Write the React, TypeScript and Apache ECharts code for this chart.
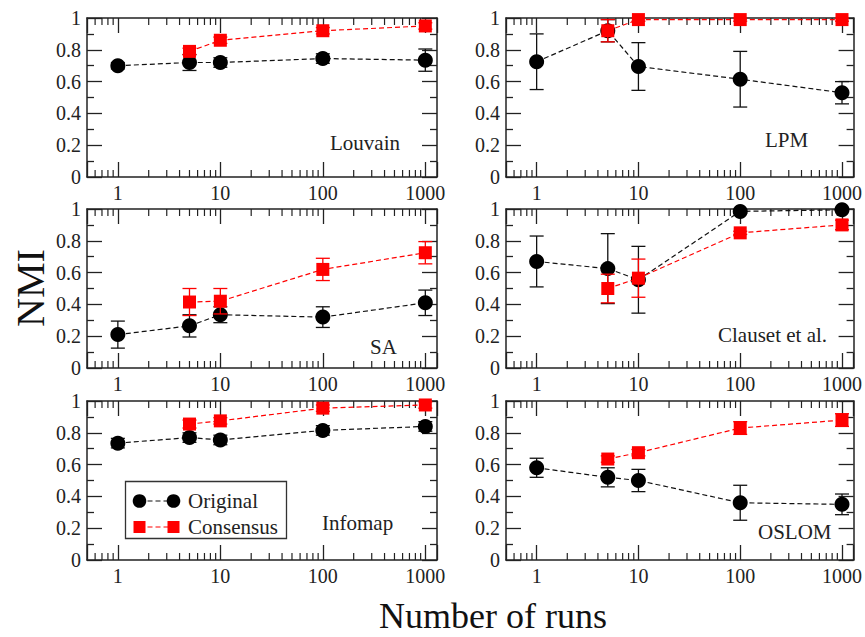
import React, { useEffect, useRef } from 'react';
import * as echarts from 'echarts';

// ---------------- data ----------------
const runs = [1, 5, 10, 100, 1000];
const consensusRuns = [5, 10, 100, 1000];
const panelNames = ['Louvain', 'LPM', 'SA', 'Clauset et al.', 'Infomap', 'OSLOM'];

const louvainOriginal = [0.70, 0.72, 0.72, 0.745, 0.735];
const louvainOriginalErr = [0.02, 0.05, 0.03, 0.03, 0.07];
const louvainConsensus = [0.79, 0.86, 0.92, 0.95];
const louvainConsensusErr = [0.02, 0.02, 0.02, 0.02];

const lpmOriginal = [0.725, 0.92, 0.695, 0.615, 0.53];
const lpmOriginalErr = [0.175, 0.07, 0.15, 0.175, 0.07];
const lpmConsensus = [0.92, 0.99, 0.99, 0.99];
const lpmConsensusErr = [0.07, 0.01, 0.01, 0.01];

const saOriginal = [0.21, 0.265, 0.335, 0.32, 0.41];
const saOriginalErr = [0.085, 0.07, 0.05, 0.065, 0.08];
const saConsensus = [0.415, 0.42, 0.62, 0.725];
const saConsensusErr = [0.085, 0.08, 0.07, 0.07];

const clausetOriginal = [0.67, 0.625, 0.555, 0.985, 0.995];
const clausetOriginalErr = [0.16, 0.22, 0.21, 0.01, 0.01];
const clausetConsensus = [0.5, 0.565, 0.85, 0.9];
const clausetConsensusErr = [0.09, 0.12, 0.01, 0.03];

const infomapOriginal = [0.735, 0.77, 0.755, 0.815, 0.84];
const infomapOriginalErr = [0.03, 0.03, 0.03, 0.03, 0.03];
const infomapConsensus = [0.855, 0.875, 0.955, 0.975];
const infomapConsensusErr = [0.025, 0.02, 0.02, 0.02];

const oslomOriginal = [0.58, 0.52, 0.5, 0.36, 0.35];
const oslomOriginalErr = [0.06, 0.06, 0.07, 0.11, 0.065];
const oslomConsensus = [0.635, 0.675, 0.83, 0.88];
const oslomConsensusErr = [0.02, 0.02, 0.04, 0.04];

const xTickLabels = [1, 10, 100, 1000];
const xMinorTicks = [
  0.6, 0.7, 0.8, 0.9,
  2, 3, 4, 5, 6, 7, 8, 9,
  20, 30, 40, 50, 60, 70, 80, 90,
  200, 300, 400, 500, 600, 700, 800, 900,
];
const xMin = 0.5;
const xMax = 1300;
const legendLabels = ['Original', 'Consensus'];
const xAxisTitle = 'Number of runs';
const yAxisTitle = 'NMI';

const panels = [
  { o: louvainOriginal, oe: louvainOriginalErr, c: louvainConsensus, ce: louvainConsensusErr },
  { o: lpmOriginal, oe: lpmOriginalErr, c: lpmConsensus, ce: lpmConsensusErr },
  { o: saOriginal, oe: saOriginalErr, c: saConsensus, ce: saConsensusErr },
  { o: clausetOriginal, oe: clausetOriginalErr, c: clausetConsensus, ce: clausetConsensusErr },
  { o: infomapOriginal, oe: infomapOriginalErr, c: infomapConsensus, ce: infomapConsensusErr },
  { o: oslomOriginal, oe: oslomOriginalErr, c: oslomConsensus, ce: oslomConsensusErr },
];

// ---------------- layout / style ----------------
const FONT = 'Liberation Serif';
const INK = '#222';
const RED = '#ff0000';
const cols = [
  { left: 87, width: 350 },
  { left: 506, width: 348 },
];
const rowTops = [18, 209, 401];
const rowHeight = 159;
const labelPos = [
  { x: 330, y: 143 },
  { x: 765, y: 140 },
  { x: 370, y: 347 },
  { x: 718, y: 335 },
  { x: 322, y: 523 },
  { x: 758, y: 532 },
];

function errRenderer(color: string) {
  return (params: any, api: any) => {
    const x = api.value(0);
    const lo = api.value(1);
    const hi = api.value(2);
    const p1 = api.coord([x, hi]);
    const p2 = api.coord([x, lo]);
    const hw = 7;
    const style = { stroke: color, lineWidth: 1.3 };
    return {
      type: 'group',
      children: [
        { type: 'line', shape: { x1: p1[0], y1: p1[1], x2: p2[0], y2: p2[1] }, style },
        { type: 'line', shape: { x1: p1[0] - hw, y1: p1[1], x2: p1[0] + hw, y2: p1[1] }, style },
        { type: 'line', shape: { x1: p2[0] - hw, y1: p2[1], x2: p2[0] + hw, y2: p2[1] }, style },
      ],
    };
  };
}

function minorTickRenderer(params: any, api: any) {
  const v = api.value(0);
  const p = api.coord([v, 0]);
  const cs = params.coordSys;
  const len = 7;
  const style = { stroke: INK, lineWidth: 1.2 };
  return {
    type: 'group',
    children: [
      { type: 'line', shape: { x1: p[0], y1: cs.y + cs.height, x2: p[0], y2: cs.y + cs.height - len }, style },
      { type: 'line', shape: { x1: p[0], y1: cs.y, x2: p[0], y2: cs.y + len }, style },
    ],
  };
}

function xLabelFormatter(v: number) {
  const t = xTickLabels.find((k) => Math.abs(v - k) / k < 1e-6);
  return t !== undefined ? String(t) : '';
}

function textStyle(text: string, size: number, align: string, fill = INK) {
  return {
    text,
    fontSize: size,
    fontFamily: FONT,
    fill,
    textAlign: align,
    textVerticalAlign: 'middle',
    align,
    verticalAlign: 'middle',
  };
}

function buildOption() {
  const lineStyleAxis = { color: INK, width: 1.5 };
  const tickStyle = { color: INK, width: 1.3 };
  const grid: any[] = [];
  const xAxis: any[] = [];
  const yAxis: any[] = [];
  const series: any[] = [];
  const graphic: any[] = [];

  panels.forEach((p, i) => {
    const col = cols[i % 2];
    const top = rowTops[Math.floor(i / 2)];
    grid.push({ left: col.left, width: col.width, top, height: rowHeight, containLabel: false });
    ['bottom', 'top'].forEach((pos) => {
      xAxis.push({
        type: 'log',
        logBase: 10,
        gridIndex: i,
        min: xMin,
        max: xMax,
        position: pos,
        axisLine: { show: true, onZero: false, lineStyle: lineStyleAxis },
        axisTick: { show: true, inside: true, length: 15, lineStyle: tickStyle },
        axisLabel: {
          show: pos === 'bottom',
          formatter: xLabelFormatter,
          fontSize: 20,
          fontFamily: FONT,
          color: INK,
          margin: 6,
          showMinLabel: true,
          showMaxLabel: true,
        },
        splitLine: { show: false },
      });
    });
    ['left', 'right'].forEach((pos) => {
      yAxis.push({
        type: 'value',
        gridIndex: i,
        min: 0,
        max: 1,
        interval: 0.2,
        position: pos,
        axisLine: { show: true, onZero: false, lineStyle: lineStyleAxis },
        axisTick: { show: true, inside: true, length: 15, lineStyle: tickStyle },
        minorTick: { show: true, splitNumber: 2, length: 7, lineStyle: tickStyle },
        axisLabel: {
          show: pos === 'left',
          fontSize: 20,
          fontFamily: FONT,
          color: INK,
          margin: 6,
        },
        splitLine: { show: false },
        minorSplitLine: { show: false },
      });
    });
    const xi = 2 * i;
    const yi = 2 * i;
    series.push({
      type: 'custom',
      xAxisIndex: xi,
      yAxisIndex: yi,
      renderItem: minorTickRenderer,
      data: xMinorTicks.map((v) => [v, 0]),
      encode: { x: 0, y: 1 },
      silent: true,
      clip: false,
      z: 1,
    });
    series.push({
      type: 'custom',
      xAxisIndex: xi,
      yAxisIndex: yi,
      renderItem: errRenderer('#111'),
      data: runs.map((r, k) => [r, p.o[k] - p.oe[k], p.o[k] + p.oe[k]]),
      encode: { x: 0, y: [1, 2] },
      silent: true,
      clip: false,
      z: 2,
    });
    series.push({
      type: 'line',
      name: legendLabels[0],
      xAxisIndex: xi,
      yAxisIndex: yi,
      data: runs.map((r, k) => [r, p.o[k]]),
      symbol: 'circle',
      symbolSize: 15,
      itemStyle: { color: '#000' },
      lineStyle: { color: '#111', width: 1.2, type: [5, 3] },
      silent: true,
      z: 3,
    });
    series.push({
      type: 'custom',
      xAxisIndex: xi,
      yAxisIndex: yi,
      renderItem: errRenderer(RED),
      data: consensusRuns.map((r, k) => [r, p.c[k] - p.ce[k], p.c[k] + p.ce[k]]),
      encode: { x: 0, y: [1, 2] },
      silent: true,
      clip: false,
      z: 4,
    });
    series.push({
      type: 'line',
      name: legendLabels[1],
      xAxisIndex: xi,
      yAxisIndex: yi,
      data: consensusRuns.map((r, k) => [r, p.c[k]]),
      symbol: 'rect',
      symbolSize: 13,
      itemStyle: { color: RED },
      lineStyle: { color: RED, width: 1.2, type: [5, 3] },
      silent: true,
      z: 5,
    });

    graphic.push({
      type: 'text',
      x: labelPos[i].x,
      y: labelPos[i].y,
      z: 100,
      style: textStyle(panelNames[i], 21, 'left'),
    });
  });

  // axis titles
  graphic.push({
    type: 'text',
    x: 30,
    y: 288,
    rotation: Math.PI / 2,
    z: 100,
    style: textStyle(yAxisTitle, 40, 'center', '#111'),
  });
  graphic.push({
    type: 'text',
    x: 493,
    y: 616,
    z: 100,
    style: textStyle(xAxisTitle, 36, 'center', '#111'),
  });

  // legend (in Infomap panel)
  const lx = 125.5;
  const ly = 481.5;
  const row1 = 501;
  const row2 = 527;
  const s1 = 139.5;
  const s2 = 173.5;
  graphic.push({
    type: 'group',
    z: 100,
    children: [
      { type: 'rect', shape: { x: lx, y: ly, width: 161, height: 57 }, style: { fill: '#fff', stroke: '#333', lineWidth: 1.3 } },
      { type: 'line', shape: { x1: s1, y1: row1, x2: s2, y2: row1 }, style: { stroke: '#111', lineWidth: 1.2, lineDash: [5, 3] } },
      { type: 'circle', shape: { cx: s1, cy: row1, r: 6.8 }, style: { fill: '#000' } },
      { type: 'circle', shape: { cx: s2, cy: row1, r: 6.8 }, style: { fill: '#000' } },
      { type: 'line', shape: { x1: s1, y1: row2, x2: s2, y2: row2 }, style: { stroke: RED, lineWidth: 1.2, lineDash: [5, 3] } },
      { type: 'rect', shape: { x: s1 - 6, y: row2 - 6, width: 12, height: 12 }, style: { fill: RED } },
      { type: 'rect', shape: { x: s2 - 6, y: row2 - 6, width: 12, height: 12 }, style: { fill: RED } },
      { type: 'text', x: 188, y: row1, style: textStyle(legendLabels[0], 21, 'left') },
      { type: 'text', x: 188, y: row2, style: textStyle(legendLabels[1], 21, 'left') },
    ],
  });

  return {
    animation: false,
    backgroundColor: '#fff',
    textStyle: { fontFamily: FONT },
    grid,
    xAxis,
    yAxis,
    series,
    graphic,
  };
}

export default function App() {
  const ref = useRef<HTMLDivElement>(null);
  useEffect(() => {
    document.body.style.margin = '0';
    if (!ref.current) return;
    const chart = echarts.init(ref.current, undefined, { renderer: 'svg' });
    chart.setOption(buildOption() as any);
    return () => {
      chart.dispose();
    };
  }, []);
  return <div ref={ref} style={{ width: 865, height: 637 }} />;
}
